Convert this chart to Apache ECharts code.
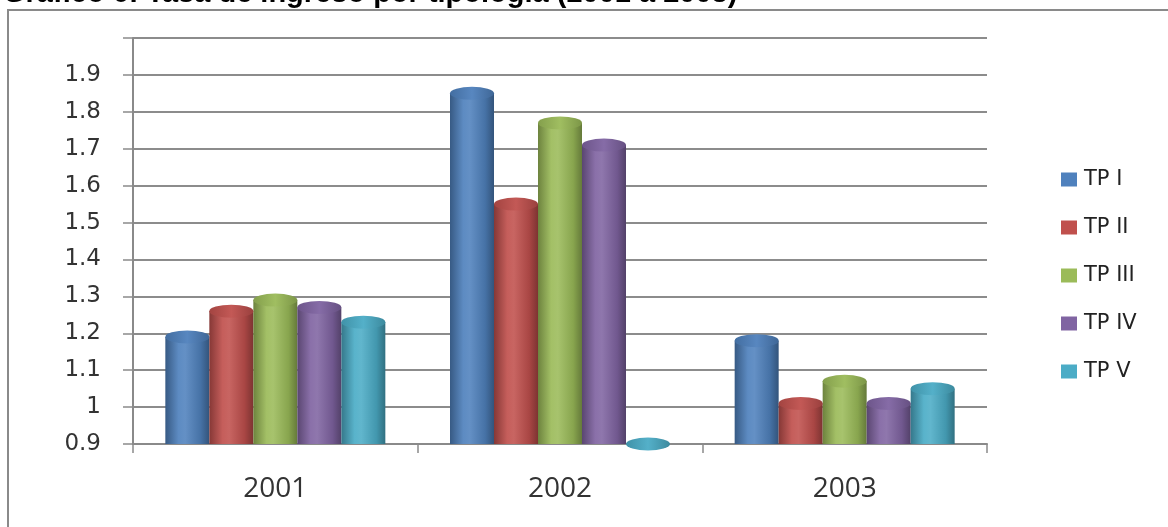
<!DOCTYPE html>
<html>
<head>
<meta charset="utf-8">
<script src="https://cdn.jsdelivr.net/npm/echarts@6/dist/echarts.min.js"></script>
<style>
  html, body { margin: 0; padding: 0; background: #ffffff; }
  #chart { width: 1168px; height: 527px; }
</style>
</head>
<body>
<div id="chart"></div>
<script>
// ---- data ----
const titleText = 'Gráfico 6: Tasa de ingreso por tipología (2001 a 2003)';
const categories = ['2001', '2002', '2003'];
const seriesNames = ['TP I', 'TP II', 'TP III', 'TP IV', 'TP V'];
const tpI   = [1.19, 1.85, 1.18];
const tpII  = [1.26, 1.55, 1.01];
const tpIII = [1.29, 1.77, 1.07];
const tpIV  = [1.27, 1.71, 1.01];
const tpV   = [1.23, 0.90, 1.05];
const yMin = 0.9, yMax = 2.0, yStep = 0.1;
const baseColors = ['#4F81BD', '#C0504D', '#9BBB59', '#8064A2', '#4BACC6'];

const values = [tpI, tpII, tpIII, tpIV, tpV];

function shade(hex, f) {
  const n = parseInt(hex.slice(1), 16);
  let r = (n >> 16) & 255, g = (n >> 8) & 255, b = n & 255;
  if (f < 0) { r = r * (1 + f); g = g * (1 + f); b = b * (1 + f); }
  else { r = r + (255 - r) * f; g = g + (255 - g) * f; b = b + (255 - b) * f; }
  return 'rgb(' + Math.round(r) + ',' + Math.round(g) + ',' + Math.round(b) + ')';
}
function cyl(hex) {
  return new echarts.graphic.LinearGradient(0, 0, 1, 0, [
    { offset: 0, color: shade(hex, -0.30) },
    { offset: 0.30, color: shade(hex, 0.08) },
    { offset: 0.45, color: shade(hex, 0.12) },
    { offset: 0.80, color: shade(hex, -0.12) },
    { offset: 1, color: shade(hex, -0.35) }
  ]);
}
function capFill(hex) {
  return new echarts.graphic.LinearGradient(0, 0, 1, 0, [
    { offset: 0, color: shade(hex, -0.15) },
    { offset: 0.5, color: shade(hex, 0.05) },
    { offset: 1, color: shade(hex, -0.2) }
  ]);
}

const barW = 44;
const series = [];
seriesNames.forEach((name, i) => {
  series.push({
    name: name,
    type: 'bar',
    data: values[i],
    barWidth: barW,
    barGap: '0%',
    itemStyle: { color: cyl(baseColors[i]) },
    z: 2 + i
  });
});
seriesNames.forEach((name, i) => {
  series.push({
    name: name,
    type: 'pictorialBar',
    data: values[i],
    symbol: 'circle',
    symbolSize: [barW, 13],
    symbolPosition: 'end',
    symbolOffset: [(i - 2) * barW, '-50%'],
    itemStyle: { color: capFill(baseColors[i]) },
    silent: true,
    z: 10 + i
  });
});

const chart = echarts.init(document.getElementById('chart'), null, { renderer: 'canvas' });
chart.setOption({
  animation: false,
  backgroundColor: '#ffffff',
  graphic: [
    {
      type: 'rect',
      shape: { x: 8, y: 10, width: 1200, height: 600 },
      style: { fill: 'none', stroke: '#8a8a8a', lineWidth: 2 },
      silent: true
    },
    {
      type: 'text',
      left: 3,
      top: -21,
      style: {
        text: titleText,
        fill: '#000000',
        font: 'bold 29px "Liberation Sans", Arial, sans-serif'
      },
      silent: true
    }
  ],
  grid: { left: 133, right: 181, top: 38, bottom: 83, containLabel: false },
  legend: {
    orient: 'vertical',
    left: 1056,
    top: 164,
    itemWidth: 16,
    itemHeight: 14,
    itemGap: 27,
    icon: 'rect',
    data: seriesNames.map((n, i) => ({ name: n, itemStyle: { color: baseColors[i] } })),
    textStyle: { fontFamily: '"DejaVu Sans", Verdana, sans-serif', fontSize: 21, color: '#222', padding: [0, 0, 0, 2] }
  },
  xAxis: {
    type: 'category',
    data: categories,
    boundaryGap: true,
    axisLine: { show: true, lineStyle: { color: '#8a8a8a', width: 2 } },
    axisTick: { show: true, length: 9, lineStyle: { color: '#8a8a8a', width: 1.5 } },
    axisLabel: { margin: 31, fontFamily: '"Open Sans", sans-serif', fontSize: 28, color: '#333' },
    splitLine: { show: false }
  },
  yAxis: {
    type: 'value',
    min: yMin,
    max: yMax,
    interval: yStep,
    axisLine: { show: true, lineStyle: { color: '#8a8a8a', width: 2 } },
    axisTick: { show: true, length: 10, lineStyle: { color: '#8a8a8a', width: 1.5 } },
    axisLabel: {
      margin: 32,
      fontFamily: '"DejaVu Sans", Verdana, sans-serif',
      fontSize: 23,
      color: '#333',
      formatter: v => (v > yMax - yStep / 2 ? '' : String(Math.round(v * 10) / 10))
    },
    splitLine: { show: true, lineStyle: { color: '#8c8c8c', width: 2 } }
  },
  series: series
});
</script>
</body>
</html>
